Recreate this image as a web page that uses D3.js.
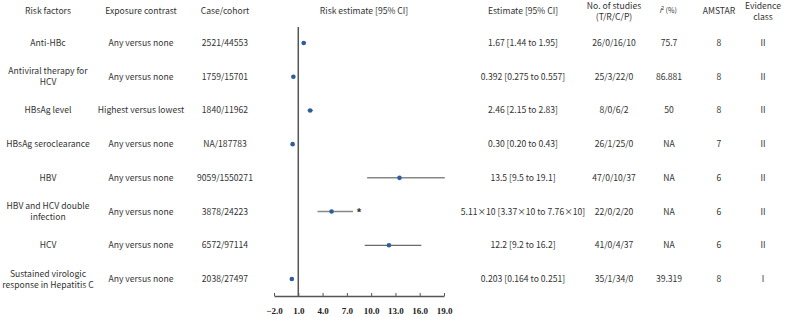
<!DOCTYPE html>
<html>
<head>
<meta charset="utf-8">
<script src="https://cdn.jsdelivr.net/npm/d3@7"></script>
<style>
  body { margin: 0; background: #fff; }
  svg text { font-family: "Noto Sans CJK SC", "Noto Sans", sans-serif; fill: #333; }
  .tick-label { font-family: "Liberation Serif", serif; font-weight: bold; fill: #222; }
</style>
</head>
<body>
<svg id="chart"></svg>
<script>
// table content
const riskFactors = [
  ["Anti-HBc"],
  ["Antiviral therapy for", "HCV"],
  ["HBsAg level"],
  ["HBsAg seroclearance"],
  ["HBV"],
  ["HBV and HCV double", "infection"],
  ["HCV"],
  ["Sustained virologic", "response in Hepatitis C"]
];
const exposure = ["Any versus none", "Any versus none", "Highest versus lowest", "Any versus none",
  "Any versus none", "Any versus none", "Any versus none", "Any versus none"];
const caseCohort = ["2521/44553", "1759/15701", "1840/11962", "NA/187783",
  "9059/1550271", "3878/24223", "6572/97114", "2038/27497"];
const estimateText = ["1.67 [1.44 to 1.95]", "0.392 [0.275 to 0.557]", "2.46 [2.15 to 2.83]",
  "0.30 [0.20 to 0.43]", "13.5 [9.5 to 19.1]", "5.11\u00d710 [3.37\u00d710 to 7.76\u00d710]",
  "12.2 [9.2 to 16.2]", "0.203 [0.164 to 0.251]"];
const studies = ["26/0/16/10", "25/3/22/0", "8/0/6/2", "26/1/25/0", "47/0/10/37", "22/0/2/20", "41/0/4/37", "35/1/34/0"];
const i2 = ["75.7", "86.881", "50", "NA", "NA", "NA", "NA", "39.319"];
const amstar = ["8", "8", "8", "7", "6", "6", "6", "8"];
const evidence = ["II", "II", "II", "II", "II", "II", "II", "I"];

// plotted values (double infection is shown divided by 10, marked with *)
const estimates = [1.67, 0.392, 2.46, 0.30, 13.5, 5.11, 12.2, 0.203];
const lows = [1.44, 0.275, 2.15, 0.20, 9.5, 3.37, 9.2, 0.164];
const highs = [1.95, 0.557, 2.83, 0.43, 19.1, 7.76, 16.2, 0.251];
const starred = [false, false, false, false, false, true, false, false];
const xTicks = [-2, 1, 4, 7, 10, 13, 16, 19];

const width = 790, height = 317;
const svg = d3.select("#chart").attr("width", width).attr("height", height);

const rows = d3.range(riskFactors.length);
const y = d3.scalePoint().domain(rows).range([43, 279]);
const x = d3.scaleLinear().domain([-2, 19]).range([274, 444]);

const fs = 8.6, lineH = 11;

// multi-line centered text helper
function cellText(cx, cy, lines, size) {
  const t = svg.append("text")
    .attr("x", cx)
    .attr("text-anchor", "middle")
    .attr("font-size", size || fs);
  const n = lines.length;
  lines.forEach((s, i) => {
    t.append("tspan")
      .attr("x", cx)
      .attr("y", cy + (i - (n - 1) / 2) * lineH)
      .attr("dy", "0.35em")
      .text(s);
  });
  return t;
}

// column headers
const headerY = 11;
cellText(48, headerY, ["Risk factors"]);
cellText(141, headerY, ["Exposure contrast"]);
cellText(225, headerY, ["Case/cohort"]);
cellText(364, headerY, ["Risk estimate [95% CI]"]);
cellText(523, headerY, ["Estimate [95% CI]"]);
cellText(614, headerY, ["No. of studies", "(T/R/C/P)"]);
const i2Head = svg.append("text").attr("x", 668).attr("y", headerY).attr("dy", "0.35em")
  .attr("text-anchor", "middle").attr("font-size", 7);
i2Head.append("tspan").attr("font-style", "italic").text("I");
i2Head.append("tspan").attr("font-size", 5).attr("dy", "-3").text("2");
i2Head.append("tspan").attr("dy", "3").text(" (%)");
cellText(719, headerY, ["AMSTAR"]);
cellText(763, headerY, ["Evidence", "class"]);

// table cells
rows.forEach(i => {
  const cy = y(i);
  cellText(48, cy, riskFactors[i]);
  cellText(141, cy, [exposure[i]]);
  cellText(225, cy, [caseCohort[i]]);
  cellText(523, cy, [estimateText[i]]);
  cellText(614, cy, [studies[i]]);
  cellText(669, cy, [i2[i]]);
  cellText(719, cy, [amstar[i]]);
  cellText(763, cy, [evidence[i]]);
});

// axis along the bottom
const axisY = 296;
const axis = d3.axisBottom(x).tickValues(xTicks).tickSize(0).tickFormat(d3.format(".1f"));
const axisG = svg.append("g").attr("transform", `translate(0,${axisY})`).call(axis);
axisG.select(".domain").attr("stroke", "#555").attr("stroke-width", 1.5);
axisG.selectAll(".tick text").attr("class", "tick-label").attr("font-size", 9).attr("y", 12);
// small tick marks above the line
axisG.selectAll(".tick").append("line")
  .attr("y1", 0).attr("y2", -3).attr("stroke", "#555").attr("stroke-width", 1);

// reference line at 1
svg.append("line")
  .attr("x1", x(1)).attr("x2", x(1))
  .attr("y1", 27).attr("y2", axisY)
  .attr("stroke", "#555").attr("stroke-width", 1.5);

// confidence intervals
const ciColor = ["#888", "#888", "#888", "#888", "#888", "#888", "#444", "#888"];
svg.append("g").selectAll("line").data(rows).join("line")
  .attr("x1", i => x(lows[i])).attr("x2", i => x(highs[i]))
  .attr("y1", i => y(i)).attr("y2", i => y(i))
  .attr("stroke", i => ciColor[i])
  .attr("stroke-width", i => ciColor[i] === "#444" ? 1 : 1.5);

// point estimates
svg.append("g").selectAll("circle").data(rows).join("circle")
  .attr("cx", i => x(estimates[i])).attr("cy", i => y(i))
  .attr("r", 2.3).attr("fill", "#2e5d9e");

// asterisk for rescaled row
svg.append("g").selectAll("text").data(rows.filter(i => starred[i])).join("text")
  .attr("x", i => x(highs[i]) + 6).attr("y", i => y(i) + 5)
  .attr("text-anchor", "middle").attr("font-size", 11).attr("font-weight", "bold")
  .text("*");
</script>
</body>
</html>
